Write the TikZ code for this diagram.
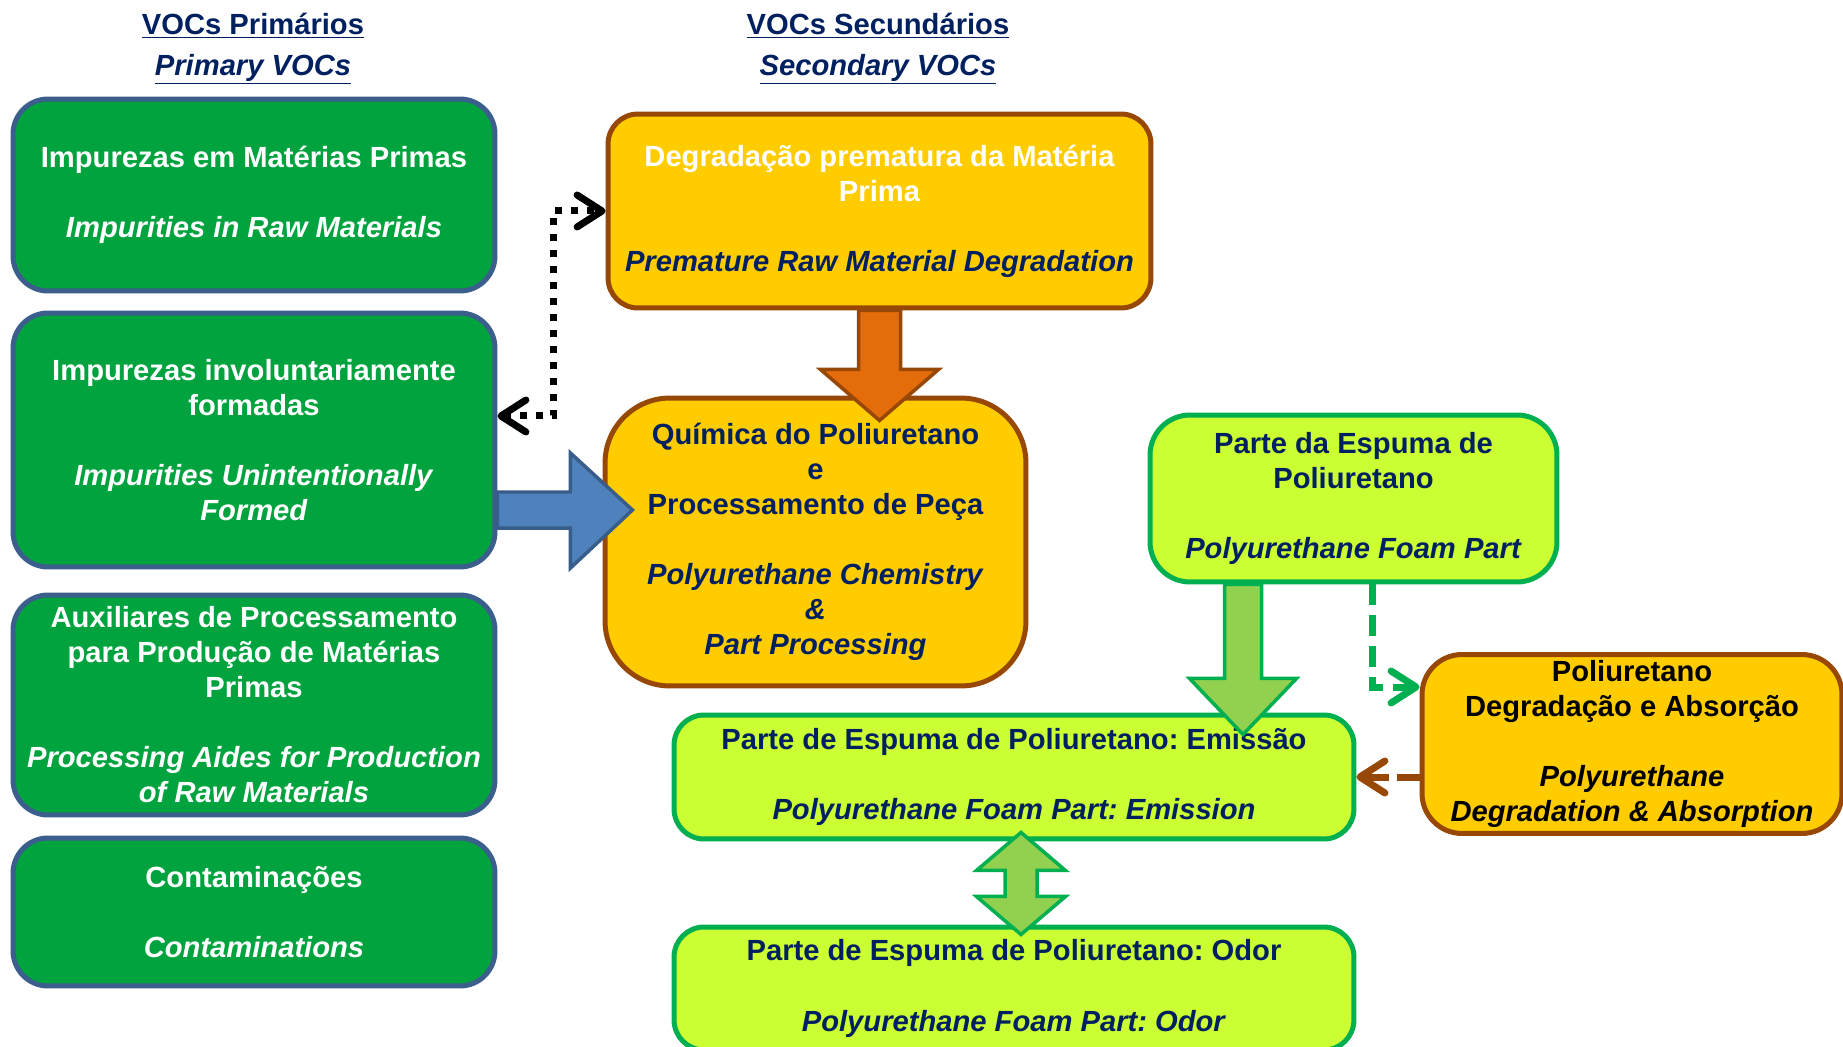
\documentclass[tikz,border=0pt]{standalone}
\usepackage{fontspec}
\setmainfont{Liberation Sans}
\usetikzlibrary{calc,arrows.meta}
\frenchspacing

\definecolor{navy}{RGB}{0,32,96}
\definecolor{primgreen}{RGB}{0,163,62}
\definecolor{primedge}{RGB}{59,94,140}
\definecolor{secorange}{RGB}{255,204,0}
\definecolor{secbrown}{RGB}{152,72,6}
\definecolor{lime}{RGB}{204,255,51}
\definecolor{foamgreen}{RGB}{0,176,80}
\definecolor{arrowgreen}{RGB}{146,208,80}
\definecolor{arroworange}{RGB}{228,108,10}
\definecolor{arrowblue}{RGB}{79,129,189}
\definecolor{arrowblueedge}{RGB}{56,93,138}

\newcommand{\vocfont}{\fontsize{16.6}{19.9}\selectfont\bfseries}

\tikzstyle{heading} = [text=navy, align=center, font=\vocfont]
\tikzstyle{primary} = [rectangle, rounded corners=0.7cm, minimum width=9.64cm, fill=primgreen, draw=primedge, line width=0.1cm, text=white, align=center, font=\vocfont]
\tikzstyle{secondary} = [rectangle, rounded corners=0.6cm, fill=secorange, draw=secbrown, line width=0.1cm, text=navy, align=center, font=\vocfont]
\tikzstyle{foampart} = [rectangle, rounded corners=0.8cm, fill=lime, draw=foamgreen, line width=0.1cm, text=navy, align=center, font=\vocfont]
\tikzstyle{blockarrow} = [line width=0.07cm, line join=miter]
\tikzstyle{link} = [line width=0.14cm, >={Straight Barb[length=0.5cm,width=0.64cm,round]}]

\begin{document}
\begin{tikzpicture}[x=0.02cm, y=-0.02cm]
		\fill[white] (0,0) rectangle (1843,1047);
		\useasboundingbox (0,0) rectangle (1843,1047);
		% Nodes
		\node (primtitle) [heading] at (253,49) {\underline{VOCs Primários}\\[3pt]\underline{\textit{Primary VOCs}}};
		\node (sectitle) [heading] at (878,49) {\underline{VOCs Secundários}\\[3pt]\underline{\textit{Secondary VOCs}}};
		\node (raw) [primary, minimum height=3.84cm] at (254,195) {Impurezas em Matérias Primas\\[20pt]\textit{Impurities in Raw Materials}};
		\node (inv) [primary, minimum height=5.08cm] at (254,440) {Impurezas involuntariamente\\formadas\\[20pt]\textit{Impurities Unintentionally}\\\textit{Formed}};
		\node (aid) [primary, minimum height=4.4cm] at (254,705) {Auxiliares de Processamento\\para Produção de Matérias\\Primas\\[20pt]\textit{Processing Aides for Production}\\\textit{of Raw Materials}};
		\node (cont) [primary, minimum height=2.96cm] at (254,912) {Contaminações\\[20pt]\textit{Contaminations}};
		\node (deg) [secondary, text=white, minimum width=10.86cm, minimum height=3.88cm] at (879.5,211) {Degradação prematura da Matéria\\Prima\\[20pt]\textcolor{navy}{\textit{Premature Raw Material Degradation}}};
		\node (chem) [secondary, rounded corners=1.3cm, minimum width=8.42cm, minimum height=5.76cm] at (815.5,542) {Química do Poliuretano\\e\\Processamento de Peça\\[20pt]\textit{Polyurethane Chemistry}\\\textit{\&}\\\textit{Part Processing}};
		\node (foam) [foampart, minimum width=8.14cm, minimum height=3.34cm] at (1353.5,498.5) {Parte da Espuma de\\Poliuretano\\[20pt]\textit{Polyurethane Foam Part}};
		\node (emis) [foampart, rounded corners=0.6cm, minimum width=13.6cm, minimum height=2.48cm] at (1014,777) {Parte de Espuma de Poliuretano: Emissão\\[20pt]\textit{Polyurethane Foam Part: Emission}};
		\node (odor) [foampart, rounded corners=0.6cm, minimum width=13.6cm, minimum height=2.46cm] at (1014,988.5) {Parte de Espuma de Poliuretano: Odor\\[20pt]\textit{Polyurethane Foam Part: Odor}};
		\node (absorb) [secondary, text=black, rounded corners=0.8cm, minimum width=8.4cm, minimum height=3.56cm] at (1632,744) {Poliuretano\\Degradação e Absorção\\[20pt]\textit{Polyurethane}\\\textit{Degradation \& Absorption}};
		% Arrows
		\draw [blockarrow, fill=arrowblue, draw=arrowblueedge] ($(inv.east)+(0,52)$) -- ++(73,0) -- ++(0,-39) -- ++(62,57) -- ++(-62,58) -- ++(0,-40) -- ++(-73,0) -- cycle;
		\draw [blockarrow, fill=arroworange, draw=secbrown] ($(deg.south)+(-21,0)$) -- ++(0,59) -- ++(-38,0) -- ++(59,51) -- ++(59,-51) -- ++(-38,0) -- ++(0,-59) -- cycle;
		\draw [blockarrow, fill=arrowgreen, draw=foamgreen] ($(foam.south)+(-129,0)$) -- ++(0,94) -- ++(-35,0) -- ++(53.5,56) -- ++(53.5,-56) -- ++(-35,0) -- ++(0,-94) -- cycle;
		\draw [blockarrow, fill=arrowgreen, draw=foamgreen] ($(emis.south)+(7,-9)$) -- ++(44.5,38) -- ++(-28.5,0) -- ++(0,26) -- ++(28.5,0) -- ++(-44.5,38) -- ++(-44.5,-38) -- ++(28.5,0) -- ++(0,-26) -- ++(-28.5,0) -- cycle;
		\draw [link, <->, dash pattern=on 0.14cm off 0.18cm] ($(inv.east)+(0,-24)$) -- ++(56,0) |- (deg.west);
		\draw [link, ->, foamgreen, dash pattern=on 0.42cm off 0.2cm] ($(foam.south)+(18.5,0)$) |- ($(absorb.west)+(0,-57)$);
		\draw [link, ->, secbrown, dash pattern=on 0.46cm off 0.16cm] (absorb.west |- emis.east) -- (emis.east);
	\end{tikzpicture}
\end{document}
